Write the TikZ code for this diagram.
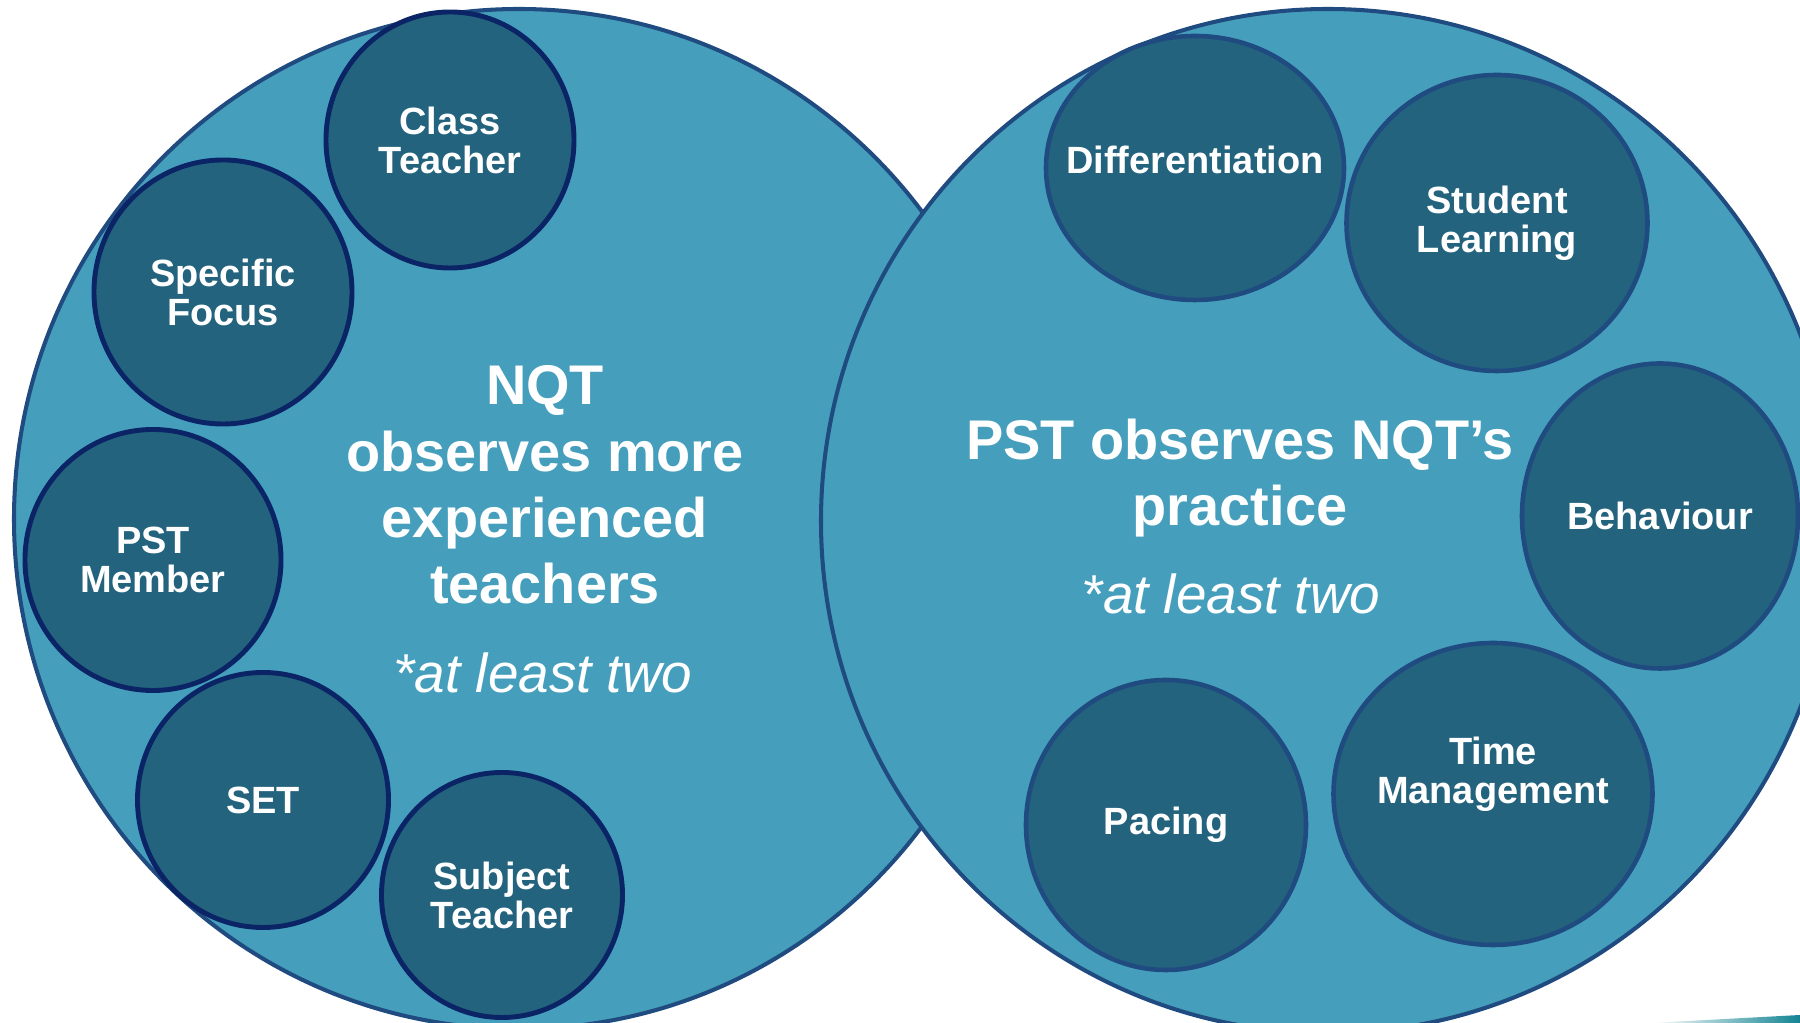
\documentclass[tikz,border=0pt]{standalone}
\usepackage{fontspec}
\setmainfont{Liberation Sans}
\usetikzlibrary{shapes.geometric}
\definecolor{ringfill}{HTML}{459FBC}
\definecolor{ringline}{HTML}{1F4B80}
\definecolor{dotfill}{HTML}{23637D}
\definecolor{dotline}{HTML}{0B2466}
\definecolor{lineteal}{HTML}{138493}
\tikzstyle{bigring}=[ellipse,draw=ringline,fill=ringfill,line width=1.15pt,inner sep=0pt]
\tikzstyle{leftvertex}=[ellipse,draw=dotline,fill=dotfill,line width=1.4pt,inner sep=0pt]
\tikzstyle{rightvertex}=[ellipse,draw=ringline,fill=dotfill,line width=1.3pt,inner sep=0pt]
\tikzstyle{tag}=[text=white,align=center,inner sep=0pt,font=\fontsize{10.8}{11.1}\selectfont\bfseries]
\tikzstyle{heading}=[text=white,align=center,inner sep=0pt,font=\fontsize{15.9}{18.9}\selectfont\bfseries]
\tikzstyle{remark}=[text=white,inner sep=0pt,font=\fontsize{15.6}{18}\selectfont\itshape]

\begin{document}
\begin{tikzpicture}

    \useasboundingbox (0,0) rectangle (18,-10.23);
    \clip (0,0) rectangle (18,-10.23);

    % NQT observes
    \node[bigring, minimum width=10.10cm, minimum height=10.20cm] (nqtring) at (5.19,-5.19) {};

    \foreach \x/\y/\w/\h/\name/\txt in {4.50/-1.40/2.48/2.56/ct/{Class\\Teacher}, 2.23/-2.92/2.58/2.64/sf/{Specific\\Focus}, 1.53/-5.60/2.56/2.61/pm/{PST\\Member}, 2.63/-8.00/2.51/2.55/set/{SET}, 5.02/-8.95/2.41/2.45/st/{Subject\\Teacher}}
    {
        \node[leftvertex, minimum width=\w cm, minimum height=\h cm] (\name) at (\x,\y) {};
        \node[tag] (\name-l) at (\name) {\txt};
    }

    \node[heading] (nqttitle) at (5.45,-4.85) {NQT\\observes more\\experienced\\teachers};
    \node[remark] (nqtnote) at (5.43,-6.73) {*at least two};

    % PST observes
    \node[bigring, minimum width=10.14cm, minimum height=10.24cm] (pstring) at (13.28,-5.21) {};

    \foreach \x/\y/\w/\h/\name/\txt/\up in {11.95/-1.68/2.98/2.64/diff/{Differentiation}/0.08, 14.97/-2.23/3.01/2.96/sl/{Student\\Learning}/0, 16.60/-5.16/2.76/3.05/beh/{Behaviour}/0, 14.93/-7.94/3.19/3.02/tm/{Time\\Management}/0.20, 11.66/-8.25/2.80/2.90/pac/{Pacing}/0}
    {
        \node[rightvertex, minimum width=\w cm, minimum height=\h cm] (\name) at (\x,\y) {};
        \node[tag, yshift=\up cm] (\name-l) at (\name) {\txt};
    }

    \node[heading] (psttitle) at (12.40,-4.78) {PST observes NQT’s\\practice};
    \node[remark] (pstnote) at (12.31,-5.94) {*at least two};

    \shade[left color=white, right color=lineteal] (16.5,-10.23) -- (18,-10.15) -- (18,-10.23) -- cycle;

\end{tikzpicture}
\end{document}
